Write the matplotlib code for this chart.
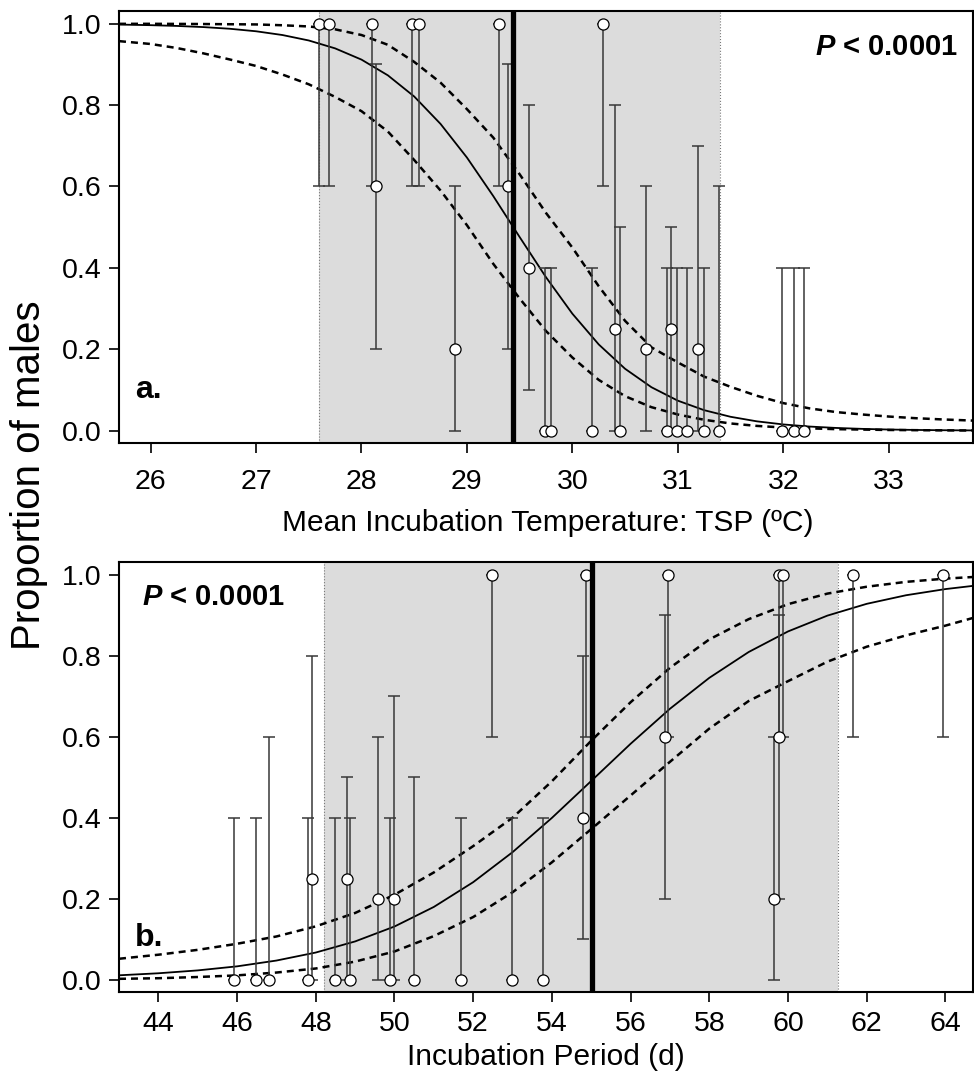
import numpy as np
import matplotlib
matplotlib.use("Agg")
import matplotlib.pyplot as plt
from matplotlib.ticker import FormatStrFormatter

plt.rcParams['font.family'] = ['Liberation Sans', 'DejaVu Sans']
plt.rcParams['mathtext.fontset'] = 'custom'
plt.rcParams['mathtext.bfit'] = 'Liberation Sans:italic:bold'

# ---- panel a: temperature ----
temp_x = [27.60, 27.69, 28.10, 28.14, 28.48, 28.55, 28.89, 29.30, 29.39, 29.59,
          29.74, 29.80, 30.19, 30.29, 30.40, 30.45, 30.70, 30.90, 30.94, 30.99,
          31.09, 31.19, 31.25, 31.39, 31.99, 32.10, 32.20]
temp_y = [1.0, 1.0, 1.0, 0.6, 1.0, 1.0, 0.2, 1.0, 0.6, 0.4,
          0.0, 0.0, 0.0, 1.0, 0.25, 0.0, 0.2, 0.0, 0.25, 0.0,
          0.0, 0.2, 0.0, 0.0, 0.0, 0.0, 0.0]
temp_lo = [0.6, 0.6, 0.6, 0.2, 0.6, 0.6, 0.0, 0.6, 0.2, 0.1,
           0.0, 0.0, 0.0, 0.6, 0.0, 0.0, 0.0, 0.0, 0.0, 0.0,
           0.0, 0.0, 0.0, 0.0, 0.0, 0.0, 0.0]
temp_hi = [1.0, 1.0, 1.0, 0.9, 1.0, 1.0, 0.6, 1.0, 0.9, 0.8,
           0.4, 0.4, 0.4, 1.0, 0.8, 0.5, 0.6, 0.4, 0.5, 0.4,
           0.4, 0.7, 0.4, 0.6, 0.4, 0.4, 0.4]

# fitted curve + 95% CI
temp_cx = [25.7, 26.0, 26.25, 26.5, 26.75, 27.0, 27.25, 27.5, 27.75, 28.0,
           28.25, 28.5, 28.75, 29.0, 29.25, 29.5, 29.75, 30.0, 30.25, 30.5,
           30.75, 31.0, 31.25, 31.5, 31.75, 32.0, 32.25, 32.5, 32.75, 33.0,
           33.25, 33.5, 33.8]
temp_fit = [0.9977, 0.9962, 0.9943, 0.9915, 0.9874, 0.9812, 0.9720, 0.9586, 0.9392, 0.9116,
            0.8730, 0.8210, 0.7536, 0.6711, 0.5764, 0.4758, 0.3771, 0.2876, 0.2121, 0.1523,
            0.1070, 0.0740, 0.0506, 0.0344, 0.0232, 0.0156, 0.0104, 0.0070, 0.0047, 0.0031,
            0.0021, 0.0014, 0.0009]
temp_up = [0.9995, 0.9995, 0.9993, 0.999, 0.9985, 0.998, 0.996, 0.993, 0.986, 0.972,
           0.948, 0.906, 0.855, 0.79, 0.72, 0.63, 0.535, 0.45, 0.355, 0.27,
           0.205, 0.168, 0.133, 0.108, 0.086, 0.068, 0.055, 0.046, 0.040, 0.035,
           0.031, 0.028, 0.025]
temp_low = [0.957, 0.950, 0.940, 0.927, 0.912, 0.896, 0.875, 0.851, 0.820, 0.785,
            0.735, 0.665, 0.590, 0.505, 0.410, 0.325, 0.245, 0.180, 0.125, 0.085,
            0.058, 0.040, 0.027, 0.018, 0.012, 0.008, 0.006, 0.004, 0.003, 0.002,
            0.0015, 0.001, 0.0007]
temp_range = [27.6, 31.4]
temp_pivot = 29.44

# ---- panel b: incubation period ----
per_x = [45.91, 46.48, 46.80, 47.80, 47.90, 48.49, 48.80, 48.87, 49.59, 49.89,
         49.99, 50.49, 51.68, 52.47, 52.98, 53.78, 54.78, 54.86, 56.88, 56.96,
         59.65, 59.76, 59.76, 59.88, 61.65, 63.95]
per_y = [0.0, 0.0, 0.0, 0.0, 0.25, 0.0, 0.25, 0.0, 0.2, 0.0,
         0.2, 0.0, 0.0, 1.0, 0.0, 0.0, 0.4, 1.0, 0.6, 1.0,
         0.2, 0.6, 1.0, 1.0, 1.0, 1.0]
per_lo = [0.0, 0.0, 0.0, 0.0, 0.0, 0.0, 0.0, 0.0, 0.0, 0.0,
          0.0, 0.0, 0.0, 0.6, 0.0, 0.0, 0.1, 0.6, 0.2, 0.6,
          0.0, 0.2, 0.6, 0.6, 0.6, 0.6]
per_hi = [0.4, 0.4, 0.6, 0.4, 0.8, 0.4, 0.5, 0.4, 0.6, 0.4,
          0.7, 0.5, 0.4, 1.0, 0.4, 0.4, 0.8, 1.0, 0.9, 1.0,
          0.6, 0.9, 1.0, 1.0, 1.0, 1.0]

per_cx = [43, 44, 45, 46, 47, 48, 49, 50, 51, 52, 53, 54, 55, 56, 57, 58,
          59, 60, 61, 62, 63, 64, 64.7]
per_fit = [0.0112, 0.0162, 0.0233, 0.0333, 0.0476, 0.0674, 0.0948, 0.1316, 0.1799, 0.2410,
           0.3150, 0.3996, 0.4908, 0.5825, 0.6689, 0.7452, 0.8089, 0.8597, 0.8987, 0.9278,
           0.9490, 0.9642, 0.9721]
per_up = [0.052, 0.062, 0.074, 0.089, 0.107, 0.132, 0.165, 0.21, 0.265, 0.33,
          0.40, 0.49, 0.59, 0.685, 0.77, 0.84, 0.89, 0.927, 0.953, 0.97,
          0.982, 0.99, 0.994]
per_low = [0.0025, 0.004, 0.007, 0.011, 0.018, 0.028, 0.045, 0.07, 0.108, 0.155,
           0.216, 0.29, 0.372, 0.455, 0.538, 0.62, 0.688, 0.737, 0.785, 0.822,
           0.85, 0.874, 0.893]
per_range = [48.2, 61.27]
per_pivot = 55.02


def draw_panel(ax, x, y, lo, hi, cx, fit, up, low, shade, pivot):
    ax.axvspan(shade[0], shade[1], color='#dcdcdc', lw=0, zorder=0)
    for s in shade:
        ax.axvline(s, color='#7a7a7a', lw=0.8, ls=':', zorder=1)
    ax.plot(cx, fit, color='black', lw=1.3, zorder=3)
    ax.plot(cx, up, color='black', lw=1.8, ls=(0, (2.8, 2.0)), zorder=3)
    ax.plot(cx, low, color='black', lw=1.8, ls=(0, (2.8, 2.0)), zorder=3)
    y = np.array(y)
    yerr = [y - np.array(lo), np.array(hi) - y]
    ax.errorbar(x, y, yerr=yerr, fmt='none', ecolor='#383838', elinewidth=1.1,
                capsize=4.2, capthick=1.1, zorder=4)
    ax.plot(x, y, 'o', ms=8, mfc='white', mec='black', mew=0.9, zorder=5)
    ax.axvline(pivot, color='black', lw=3.8, zorder=6)
    ax.set_ylim(-0.03, 1.031)
    ax.set_yticks([0.0, 0.2, 0.4, 0.6, 0.8, 1.0])
    ax.yaxis.set_major_formatter(FormatStrFormatter('%.1f'))
    ax.tick_params(direction='out', length=7.5, width=1.2, labelsize=20.5, pad=5)
    for sp in ax.spines.values():
        sp.set_linewidth(1.5)
        sp.set_zorder(7)


fig = plt.figure(figsize=(9.74, 10.77), dpi=100)
W, H = 974, 1077

ax1 = fig.add_axes([119 / W, 1 - 443 / H, (973 - 119) / W, (443 - 11) / H])
draw_panel(ax1, temp_x, temp_y, temp_lo, temp_hi, temp_cx, temp_fit, temp_up, temp_low,
           temp_range, temp_pivot)
ax1.set_xlim(25.7, 33.8)
ax1.set_xticks([26, 27, 28, 29, 30, 31, 32, 33])
ax1.tick_params(axis='x', pad=11)
ax1.text(0.982, 0.917, r'$\mathbfit{P}$ < 0.0001', transform=ax1.transAxes, ha='right',
         va='center', fontsize=21, fontweight='bold')
ax1.text(0.019, 0.123, 'a.', transform=ax1.transAxes, ha='left', va='center',
         fontsize=23, fontweight='bold')

ax2 = fig.add_axes([119 / W, 1 - 992 / H, (973 - 119) / W, (992 - 562) / H])
draw_panel(ax2, per_x, per_y, per_lo, per_hi, per_cx, per_fit, per_up, per_low,
           per_range, per_pivot)
ax2.set_xlim(43.0, 64.7)
ax2.set_xticks(list(range(44, 65, 2)))
ax2.tick_params(axis='x', pad=6)
ax2.text(0.027, 0.919, r'$\mathbfit{P}$ < 0.0001', transform=ax2.transAxes, ha='left',
         va='center', fontsize=21, fontweight='bold')
ax2.text(0.019, 0.125, 'b.', transform=ax2.transAxes, ha='left', va='center',
         fontsize=23, fontweight='bold')

fig.text(548 / W, 1 - 523 / H, 'Mean Incubation Temperature: TSP (ºC)', ha='center',
         va='center', fontsize=21.5)
fig.text(546 / W, 1 - 1057 / H, 'Incubation Period (d)', ha='center', va='center',
         fontsize=21.5)
fig.text(29 / W, 1 - 475 / H, 'Proportion of males', rotation=90, ha='center',
         va='center', fontsize=29)

fig.savefig('out.png', dpi=100)
